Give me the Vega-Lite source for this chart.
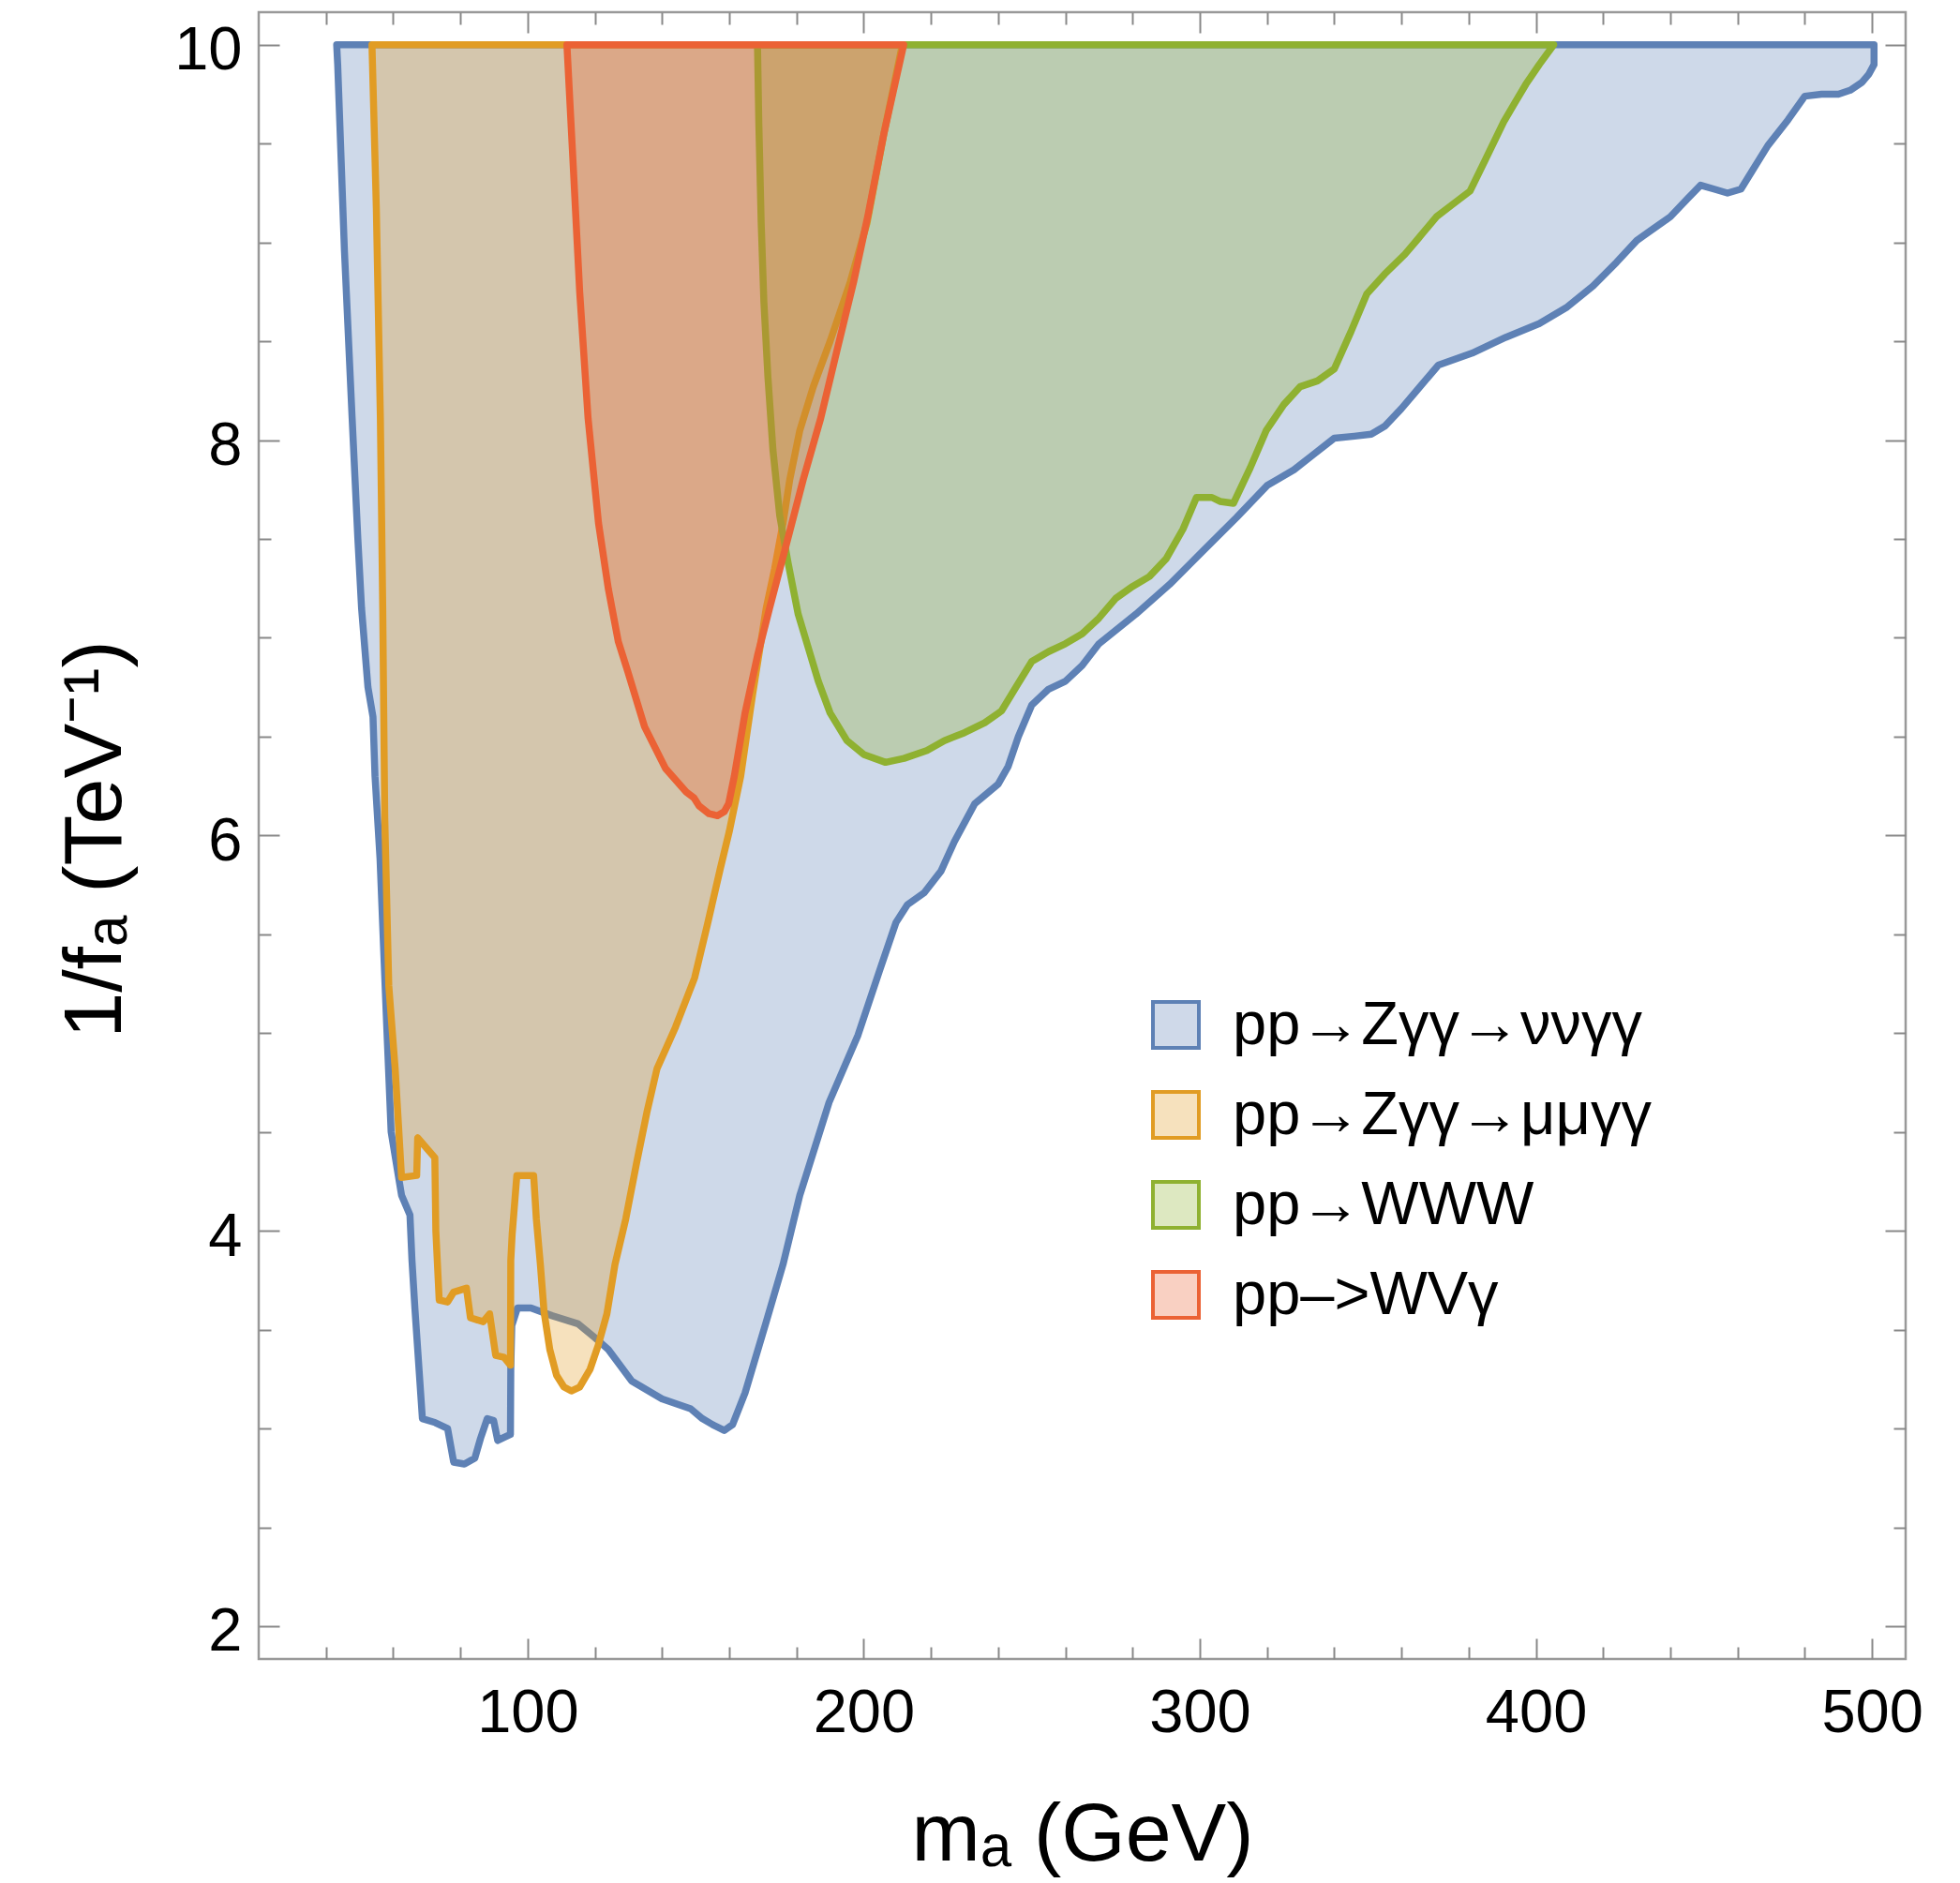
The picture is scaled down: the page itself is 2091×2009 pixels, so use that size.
{
  "$schema": "https://vega.github.io/schema/vega-lite/v6.json",
  "width": 1757,
  "height": 1757,
  "autosize": {"type": "none"},
  "padding": {"left": 276, "top": 13, "right": 58, "bottom": 239},
  "background": "white",
  "datasets": {
    "processes": [
      {"s": "pp→Zγγ→ννγγ"}, {"s": "pp→Zγγ→μμγγ"}, {"s": "pp→WWW"}, {"s": "pp–>WVγ"}
    ],
    "zvv": [
      {"m": 43.2, "y": 10}, {"m": 500.6, "y": 10}, {"m": 500.6, "y": 9.9}, {"m": 499, "y": 9.85}, {"m": 497, "y": 9.81},
      {"m": 493.5, "y": 9.77}, {"m": 490, "y": 9.75}, {"m": 485, "y": 9.75}, {"m": 480, "y": 9.74}, {"m": 475, "y": 9.62},
      {"m": 469, "y": 9.49}, {"m": 465, "y": 9.38}, {"m": 461, "y": 9.27}, {"m": 457, "y": 9.25}, {"m": 453, "y": 9.27},
      {"m": 449, "y": 9.29}, {"m": 445, "y": 9.22}, {"m": 440, "y": 9.13}, {"m": 435, "y": 9.07}, {"m": 430, "y": 9.01},
      {"m": 424, "y": 8.9}, {"m": 417, "y": 8.78}, {"m": 409, "y": 8.67}, {"m": 401, "y": 8.59}, {"m": 391, "y": 8.52},
      {"m": 381, "y": 8.44}, {"m": 371, "y": 8.38}, {"m": 365, "y": 8.26}, {"m": 360, "y": 8.16}, {"m": 355, "y": 8.07},
      {"m": 351, "y": 8.03}, {"m": 346, "y": 8.02}, {"m": 340, "y": 8.01}, {"m": 334, "y": 7.93}, {"m": 328, "y": 7.85},
      {"m": 320, "y": 7.77}, {"m": 311, "y": 7.61}, {"m": 301, "y": 7.44}, {"m": 291, "y": 7.27}, {"m": 281, "y": 7.12},
      {"m": 270, "y": 6.97}, {"m": 265, "y": 6.86}, {"m": 260, "y": 6.78}, {"m": 255, "y": 6.74}, {"m": 250, "y": 6.66},
      {"m": 246, "y": 6.5}, {"m": 243, "y": 6.35}, {"m": 240, "y": 6.26}, {"m": 233, "y": 6.16}, {"m": 227, "y": 5.97},
      {"m": 223, "y": 5.82}, {"m": 218, "y": 5.71}, {"m": 213, "y": 5.65}, {"m": 209.6, "y": 5.56}, {"m": 204.6, "y": 5.31},
      {"m": 198.3, "y": 4.99}, {"m": 189.7, "y": 4.65}, {"m": 181, "y": 4.18}, {"m": 176, "y": 3.83}, {"m": 171, "y": 3.54},
      {"m": 164.7, "y": 3.18}, {"m": 161, "y": 3.02}, {"m": 158.5, "y": 2.99}, {"m": 155, "y": 3.02}, {"m": 152, "y": 3.05},
      {"m": 148.5, "y": 3.1}, {"m": 140, "y": 3.15}, {"m": 131, "y": 3.24}, {"m": 124, "y": 3.4}, {"m": 120, "y": 3.46},
      {"m": 115, "y": 3.53}, {"m": 107.4, "y": 3.57}, {"m": 101, "y": 3.61}, {"m": 97, "y": 3.61}, {"m": 95.3, "y": 3.52},
      {"m": 95, "y": 3.3}, {"m": 94.9, "y": 2.97}, {"m": 91.1, "y": 2.94}, {"m": 89.9, "y": 3.04}, {"m": 88, "y": 3.05},
      {"m": 86, "y": 2.95}, {"m": 84.3, "y": 2.85}, {"m": 81.2, "y": 2.82}, {"m": 78, "y": 2.83}, {"m": 76.2, "y": 3.0},
      {"m": 72.5, "y": 3.03}, {"m": 68.7, "y": 3.05}, {"m": 66.5, "y": 3.6}, {"m": 65.6, "y": 3.85}, {"m": 65, "y": 4.08},
      {"m": 62.5, "y": 4.18}, {"m": 59.4, "y": 4.5}, {"m": 58.1, "y": 5.03}, {"m": 56.1, "y": 5.88}, {"m": 54.6, "y": 6.3},
      {"m": 54, "y": 6.6}, {"m": 52.5, "y": 6.75}, {"m": 50.6, "y": 7.15}, {"m": 49.5, "y": 7.5}, {"m": 47.8, "y": 8.11},
      {"m": 45.5, "y": 8.96}, {"m": 43.5, "y": 9.9}, {"m": 43.2, "y": 10}
    ],
    "zmm": [
      {"m": 53.7, "y": 10}, {"m": 211.5, "y": 10}, {"m": 206, "y": 9.55}, {"m": 201, "y": 9.1}, {"m": 196, "y": 8.8},
      {"m": 190, "y": 8.5}, {"m": 185, "y": 8.27}, {"m": 181, "y": 8.05}, {"m": 178, "y": 7.8}, {"m": 176, "y": 7.58},
      {"m": 173.5, "y": 7.35}, {"m": 171, "y": 7.15}, {"m": 167, "y": 6.72}, {"m": 163.4, "y": 6.3}, {"m": 160, "y": 6.02},
      {"m": 157.3, "y": 5.83}, {"m": 153.5, "y": 5.55}, {"m": 149.7, "y": 5.28}, {"m": 144, "y": 5.03}, {"m": 138.5, "y": 4.82},
      {"m": 135.5, "y": 4.6}, {"m": 132.5, "y": 4.35}, {"m": 129.2, "y": 4.06}, {"m": 126, "y": 3.83}, {"m": 123.6, "y": 3.58},
      {"m": 121, "y": 3.42}, {"m": 118.6, "y": 3.3}, {"m": 115.5, "y": 3.21}, {"m": 113, "y": 3.19}, {"m": 110.8, "y": 3.21},
      {"m": 108.6, "y": 3.27}, {"m": 106.6, "y": 3.4}, {"m": 104.9, "y": 3.59}, {"m": 103.8, "y": 3.83}, {"m": 102.6, "y": 4.06},
      {"m": 101.8, "y": 4.28}, {"m": 96.8, "y": 4.28}, {"m": 95.4, "y": 3.98}, {"m": 95, "y": 3.85}, {"m": 94.9, "y": 3.32},
      {"m": 93, "y": 3.36}, {"m": 90.5, "y": 3.37}, {"m": 88.7, "y": 3.58}, {"m": 86.8, "y": 3.54}, {"m": 83, "y": 3.56},
      {"m": 81.8, "y": 3.71}, {"m": 78, "y": 3.69}, {"m": 76.2, "y": 3.64}, {"m": 73.7, "y": 3.65}, {"m": 72.7, "y": 4.0},
      {"m": 72.4, "y": 4.37}, {"m": 67.3, "y": 4.47}, {"m": 67, "y": 4.28}, {"m": 62.5, "y": 4.27}, {"m": 60.6, "y": 4.82},
      {"m": 58.7, "y": 5.24}, {"m": 57.5, "y": 6.09}, {"m": 56.9, "y": 7.15}, {"m": 56.2, "y": 8.11}, {"m": 55, "y": 9.17},
      {"m": 53.7, "y": 10}
    ],
    "www": [
      {"m": 168.4, "y": 10}, {"m": 405.3, "y": 10}, {"m": 401, "y": 9.9}, {"m": 397, "y": 9.8}, {"m": 393.5, "y": 9.7},
      {"m": 390.4, "y": 9.61}, {"m": 385, "y": 9.42}, {"m": 380.4, "y": 9.26}, {"m": 375, "y": 9.19}, {"m": 370.4, "y": 9.13},
      {"m": 365, "y": 9.02}, {"m": 361, "y": 8.94}, {"m": 355, "y": 8.84}, {"m": 349.7, "y": 8.74}, {"m": 345, "y": 8.55},
      {"m": 340, "y": 8.36}, {"m": 335, "y": 8.3}, {"m": 329.8, "y": 8.27}, {"m": 325, "y": 8.18}, {"m": 319.8, "y": 8.05},
      {"m": 315, "y": 7.86}, {"m": 310, "y": 7.68}, {"m": 306, "y": 7.69}, {"m": 303.6, "y": 7.71}, {"m": 299, "y": 7.71},
      {"m": 295, "y": 7.55}, {"m": 290, "y": 7.4}, {"m": 285, "y": 7.31}, {"m": 280, "y": 7.26}, {"m": 275, "y": 7.2},
      {"m": 270, "y": 7.1}, {"m": 265, "y": 7.02}, {"m": 260, "y": 6.97}, {"m": 255, "y": 6.93}, {"m": 250, "y": 6.88},
      {"m": 246, "y": 6.77}, {"m": 241, "y": 6.63}, {"m": 236, "y": 6.57}, {"m": 230, "y": 6.52}, {"m": 224, "y": 6.48},
      {"m": 218.8, "y": 6.43}, {"m": 212, "y": 6.39}, {"m": 206.5, "y": 6.37}, {"m": 200, "y": 6.41}, {"m": 195, "y": 6.48},
      {"m": 190, "y": 6.62}, {"m": 186.5, "y": 6.78}, {"m": 183.5, "y": 6.95}, {"m": 180.5, "y": 7.12}, {"m": 177.5, "y": 7.38},
      {"m": 175, "y": 7.62}, {"m": 173, "y": 7.95}, {"m": 171.5, "y": 8.32}, {"m": 170.3, "y": 8.7}, {"m": 169.5, "y": 9.1},
      {"m": 168.8, "y": 9.6}, {"m": 168.4, "y": 10}
    ],
    "wvg": [
      {"m": 111.7, "y": 10}, {"m": 211.9, "y": 10}, {"m": 206, "y": 9.55}, {"m": 201.3, "y": 9.14}, {"m": 197, "y": 8.8},
      {"m": 192, "y": 8.45}, {"m": 187.2, "y": 8.11}, {"m": 182, "y": 7.8}, {"m": 177.1, "y": 7.48}, {"m": 172, "y": 7.15},
      {"m": 168.4, "y": 6.91}, {"m": 164.7, "y": 6.62}, {"m": 161.5, "y": 6.3}, {"m": 159.8, "y": 6.16}, {"m": 158.5, "y": 6.12},
      {"m": 156.5, "y": 6.1}, {"m": 154, "y": 6.11}, {"m": 151, "y": 6.15}, {"m": 149.5, "y": 6.19}, {"m": 147.2, "y": 6.22},
      {"m": 141, "y": 6.34}, {"m": 134.8, "y": 6.55}, {"m": 129.8, "y": 6.83}, {"m": 127, "y": 6.98}, {"m": 124, "y": 7.25},
      {"m": 121.1, "y": 7.58}, {"m": 118, "y": 8.11}, {"m": 115.5, "y": 8.75}, {"m": 113.6, "y": 9.38}, {"m": 111.7, "y": 10}
    ]
  },
  "layer": [
    {
      "data": {"name": "processes"},
      "mark": {"type": "square", "size": 0, "opacity": 0},
      "encoding": {
        "color": {
          "field": "s", "type": "nominal",
          "scale": {"domain": ["pp→Zγγ→ννγγ", "pp→Zγγ→μμγγ", "pp→WWW", "pp–>WVγ"],
                    "range": ["#CFD9E9", "#F6E1BD", "#DDE8C1", "#F9D0C2"]},
          "legend": {"title": null, "orient": "none", "legendX": 946, "legendY": 1048, "symbolType": "square",
                     "symbolSize": 2401, "symbolStrokeWidth": 4, "symbolOpacity": 1, "labelFontSize": 65, "labelOffset": 28,
                     "rowPadding": 30, "padding": 0, "labelLimit": 0}
        },
        "stroke": {
          "field": "s", "type": "nominal",
          "scale": {"domain": ["pp→Zγγ→ννγγ", "pp→Zγγ→μμγγ", "pp→WWW", "pp–>WVγ"],
                    "range": ["#5E81B5", "#E19C24", "#8FB131", "#EB6235"]},
          "legend": {"title": null, "orient": "none", "legendX": 946, "legendY": 1048, "symbolType": "square",
                     "symbolSize": 2401, "symbolStrokeWidth": 4, "symbolOpacity": 1, "labelFontSize": 65, "labelOffset": 28,
                     "rowPadding": 30, "padding": 0, "labelLimit": 0}
        }
      }
    },
    {
      "data": {"name": "zvv"},
      "mark": {"type": "line", "fillOpacity": 0.3, "strokeWidth": 7.5, "strokeJoin": "round", "strokeCap": "round"},
      "encoding": {
        "x": {
          "field": "m", "type": "quantitative",
          "scale": {"domain": [20, 510], "nice": false, "zero": false},
          "axis": {"orient": "bottom", "values": [100, 200, 300, 400, 500], "tickSize": -22, "labelPadding": 48,
                   "labelFontSize": 65, "title": "mₐ (GeV)", "titleFontSize": 88, "titleFontWeight": "normal",
                   "titleBaseline": "alphabetic", "titleY": 214, "domain": false, "grid": false}
        },
        "y": {
          "field": "y", "type": "quantitative",
          "scale": {"domain": [1.834, 10.165], "nice": false, "zero": false},
          "axis": {"orient": "left", "values": [2, 4, 6, 8, 10], "tickSize": -22, "labelPadding": 40, "labelOffset": 6,
                   "labelFontSize": 65, "title": "1/fₐ (TeV⁻¹)", "titleFontSize": 88, "titleFontWeight": "normal",
                   "titleBaseline": "alphabetic", "titleX": -148, "titleY": 882, "domain": false, "grid": false}
        },
        "order": {"value": null},
        "fill": {
          "datum": "pp→Zγγ→ννγγ", "type": "nominal",
          "scale": {"domain": ["pp→Zγγ→ννγγ", "pp→Zγγ→μμγγ", "pp→WWW", "pp–>WVγ"],
                    "range": ["#5E81B5", "#E19C24", "#8FB131", "#EB6235"]},
          "legend": null
        },
        "stroke": {"datum": "pp→Zγγ→ννγγ", "type": "nominal"}
      }
    },
    {
      "data": {"name": "zmm"},
      "mark": {"type": "line", "fillOpacity": 0.3, "strokeWidth": 7.5, "strokeJoin": "round", "strokeCap": "round"},
      "encoding": {
        "x": {"field": "m", "type": "quantitative", "scale": {"domain": [20, 510], "nice": false, "zero": false},
              "axis": {"orient": "top", "values": [100, 200, 300, 400, 500], "tickSize": -22, "labels": false, "title": null, "domain": false, "grid": false}},
        "y": {"field": "y", "type": "quantitative", "scale": {"domain": [1.834, 10.165], "nice": false, "zero": false},
              "axis": {"orient": "right", "values": [2, 4, 6, 8, 10], "tickSize": -22, "labels": false, "title": null, "domain": false, "grid": false}},
        "order": {"value": null},
        "fill": {"datum": "pp→Zγγ→μμγγ", "type": "nominal", "legend": null},
        "stroke": {"datum": "pp→Zγγ→μμγγ", "type": "nominal"}
      }
    },
    {
      "data": {"name": "www"},
      "mark": {"type": "line", "fillOpacity": 0.3, "strokeWidth": 7.5, "strokeJoin": "round", "strokeCap": "round"},
      "encoding": {
        "x": {"field": "m", "type": "quantitative", "scale": {"domain": [20, 510], "nice": false, "zero": false},
              "axis": {"orient": "bottom", "values": [40, 60, 80, 120, 140, 160, 180, 220, 240, 260, 280, 320, 340, 360, 380, 420, 440, 460, 480],
                       "tickSize": -13, "labels": false, "title": null, "domain": false, "grid": false}},
        "y": {"field": "y", "type": "quantitative", "scale": {"domain": [1.834, 10.165], "nice": false, "zero": false},
              "axis": {"orient": "left", "values": [2.5, 3, 3.5, 4.5, 5, 5.5, 6.5, 7, 7.5, 8.5, 9, 9.5],
                       "tickSize": -13, "labels": false, "title": null, "domain": false, "grid": false}},
        "order": {"value": null},
        "fill": {"datum": "pp→WWW", "type": "nominal", "legend": null},
        "stroke": {"datum": "pp→WWW", "type": "nominal"}
      }
    },
    {
      "data": {"name": "wvg"},
      "mark": {"type": "line", "fillOpacity": 0.3, "strokeWidth": 7.5, "strokeJoin": "round", "strokeCap": "round"},
      "encoding": {
        "x": {"field": "m", "type": "quantitative", "scale": {"domain": [20, 510], "nice": false, "zero": false},
              "axis": {"orient": "top", "values": [40, 60, 80, 120, 140, 160, 180, 220, 240, 260, 280, 320, 340, 360, 380, 420, 440, 460, 480],
                       "tickSize": -13, "labels": false, "title": null, "domain": false, "grid": false}},
        "y": {"field": "y", "type": "quantitative", "scale": {"domain": [1.834, 10.165], "nice": false, "zero": false},
              "axis": {"orient": "right", "values": [2.5, 3, 3.5, 4.5, 5, 5.5, 6.5, 7, 7.5, 8.5, 9, 9.5],
                       "tickSize": -13, "labels": false, "title": null, "domain": false, "grid": false}},
        "order": {"value": null},
        "fill": {"datum": "pp–>WVγ", "type": "nominal", "legend": null},
        "stroke": {"datum": "pp–>WVγ", "type": "nominal"}
      }
    }
  ],
  "resolve": {"axis": {"x": "independent", "y": "independent"}},
  "config": {
    "font": "Liberation Sans",
    "view": {"stroke": "#999999", "strokeWidth": 2.5},
    "axis": {"tickColor": "#888888", "tickWidth": 2, "labelColor": "#000000", "titleColor": "#000000",
             "labelFont": "Liberation Sans", "titleFont": "Liberation Sans"},
    "legend": {"labelColor": "#000000", "labelFont": "Liberation Sans"}
  }
}
